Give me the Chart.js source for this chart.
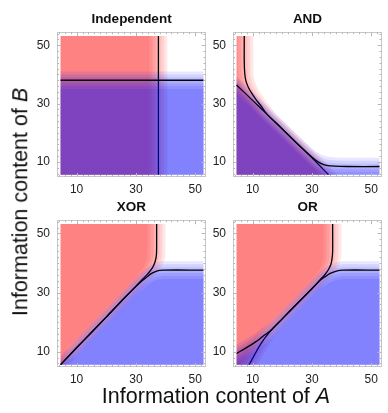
<!DOCTYPE html>
<html>
<head>
<meta charset="utf-8">
<script src="https://cdn.jsdelivr.net/npm/chart.js@4.4.0/dist/chart.umd.min.js"></script>
<style>
  body { margin: 0; background: #fff; width: 388px; height: 413px; position: relative; overflow: hidden;
         font-family: "Liberation Sans", Arial, sans-serif; color: #111; }
  canvas { position: absolute; }
  .ttl { position: absolute; font-weight: bold; font-size: 13.5px; line-height: 1; transform: translate(-50%, -50%); white-space: nowrap; }
  .axt { position: absolute; font-size: 21.5px; line-height: 1; white-space: nowrap; transform: translate(-50%, -50%); }
  #ytitle { transform: translate(-50%, -50%) rotate(-90deg); }
</style>
</head>
<body>
<div id="holder"></div>
<div class="axt" id="xtitle" style="left:216px; top:397px;">Information content of <i>A</i></div>
<div class="axt" id="ytitle" style="left:21px; top:202px;">Information content of <i>B</i></div>
<script>
// panel names
var panelTitles = ["Independent", "AND", "XOR", "OR"];

// axes
var xRange = [3.4, 53.5];
var yRange = [4.8, 54.5];
var tickValues = [4, 6, 8, 10, 12, 14, 16, 18, 20, 22, 24, 26, 28, 30, 32, 34, 36, 38, 40, 42, 44, 46, 48, 50, 52, 54];
var labelValues = [10, 30, 50];

// extent of the coloured field
var fieldX = [4.6, 52.8];
var fieldY = [5.6, 53.2];

// boundary of A (red), listed top to bottom
var indepRed = [{x:37.6,y:53.2},{x:37.6,y:5.6}];
var andRed = [{x:7.2,y:53.2},{x:7.2,y:44},{x:7.4,y:40},{x:7.8,y:37.6},{x:8.6,y:35.5},{x:9.8,y:33.4},{x:11.3,y:31.2},
  {x:13,y:29},{x:15,y:26.2},{x:20,y:21.3},{x:25,y:16.3},{x:30,y:11.4},{x:35.6,y:5.6}];
var xorRed = [{x:37,y:53.2},{x:37,y:45},{x:36.9,y:42.5},{x:36.5,y:40.5},{x:35.8,y:38.8},{x:34.8,y:37.3},{x:33.6,y:35.9},
  {x:32,y:34.3},{x:30,y:32.1},{x:25,y:27},{x:20,y:21.7},{x:15,y:16.5},{x:10,y:11.3},{x:4.6,y:5.6}];
var orRed = [{x:37,y:53.2},{x:37,y:44},{x:36.8,y:41.5},{x:36.4,y:39.5},{x:35.6,y:37.8},{x:34.5,y:36.2},{x:33.4,y:35},
  {x:30,y:31.3},{x:25,y:26.2},{x:20,y:21.1},{x:16.5,y:17.5},{x:14.5,y:15.1},{x:13,y:13},{x:11.8,y:11},{x:10.6,y:8.8},
  {x:9.5,y:6.8},{x:8.8,y:5.6}];

// boundary of B (blue), listed left to right
var indepBlue = [{x:4.6,y:38},{x:52.8,y:38}];
var andBlue = [{x:4.6,y:36.4},{x:10,y:31.1},{x:15,y:26.2},{x:20,y:21.3},{x:25,y:16.3},{x:27,y:14.4},{x:29,y:12.5},
  {x:31,y:10.8},{x:33,y:9.5},{x:35,y:8.8},{x:38,y:8.5},{x:42,y:8.4},{x:52.8,y:8.4}];
var xorBlue = [{x:4.6,y:5.6},{x:10,y:11.3},{x:15,y:16.5},{x:20,y:21.7},{x:25,y:27},{x:30,y:32.1},{x:32,y:33.9},
  {x:33.6,y:35.2},{x:35.3,y:36.5},{x:37,y:37.3},{x:39,y:37.6},{x:52.8,y:37.6}];
var orBlue = [{x:4.6,y:9.4},{x:6,y:10.2},{x:7.7,y:11.2},{x:9.5,y:12.3},{x:11,y:13.3},{x:12.5,y:14.4},{x:14,y:15.6},
  {x:16.5,y:17.5},{x:20,y:21.1},{x:25,y:26.2},{x:30,y:31.3},{x:33,y:34.3},{x:34.5,y:35.4},{x:36,y:36.4},
  {x:38,y:37.2},{x:40.4,y:37.6},{x:52.8,y:37.6}];

Chart.defaults.font.family = '"Liberation Sans", Arial, sans-serif';
Chart.defaults.color = '#222';

// soft edge: the region is laid down several times, pushed a little each time
var edgeShifts = [-3, -2, -1, 0, 1, 2, 3];
var layerAlpha = 0.094;

function clamp(v, r) { return Math.min(r[1], Math.max(r[0], v)); }

function redShape(curve, s) {
  var pts = curve.map(function (p) { return {x: clamp(p.x + s, fieldX), y: p.y}; });
  pts.push({x: fieldX[0], y: fieldY[0]}, {x: fieldX[0], y: fieldY[1]});
  return pts;
}
function blueShape(curve, s) {
  var pts = curve.map(function (p) { return {x: p.x, y: clamp(p.y + s, fieldY)}; });
  pts.push({x: fieldX[1], y: fieldY[0]}, {x: fieldX[0], y: fieldY[0]});
  return pts;
}

var framePlugin = {
  id: 'frame',
  afterDraw: function (chart) {
    var ctx = chart.ctx, a = chart.chartArea, sx = chart.scales.x, sy = chart.scales.y;
    ctx.save();
    ctx.lineWidth = 1;
    ctx.strokeStyle = '#c6c6c6';
    ctx.strokeRect(Math.round(a.left) + 0.5, Math.round(a.top) + 0.5,
                   Math.round(a.right - a.left) - 1, Math.round(a.bottom - a.top) - 1);
    ctx.strokeStyle = '#b8b8b8';
    ctx.beginPath();
    tickValues.forEach(function (v) {
      var len = labelValues.indexOf(v) >= 0 ? 4 : 2;
      if (v > xRange[0] && v < xRange[1]) {
        var px = Math.round(sx.getPixelForValue(v)) + 0.5;
        ctx.moveTo(px, a.bottom); ctx.lineTo(px, a.bottom - len);
        ctx.moveTo(px, a.top); ctx.lineTo(px, a.top + len);
      }
      if (v > yRange[0] && v < yRange[1]) {
        var py = Math.round(sy.getPixelForValue(v)) + 0.5;
        ctx.moveTo(a.left, py); ctx.lineTo(a.left + len, py);
        ctx.moveTo(a.right, py); ctx.lineTo(a.right - len, py);
      }
    });
    ctx.stroke();
    ctx.restore();
  }
};

var panels = [
  {title: panelTitles[0], red: indepRed, blue: indepBlue, left: 57, top: 28, w: 149, h: 149},
  {title: panelTitles[1], red: andRed,   blue: andBlue,   left: 233, top: 28, w: 149, h: 149},
  {title: panelTitles[2], red: xorRed,   blue: xorBlue,   left: 57, top: 216, w: 149, h: 151},
  {title: panelTitles[3], red: orRed,    blue: orBlue,    left: 233, top: 216, w: 149, h: 151}
];

var holder = document.getElementById('holder');

panels.forEach(function (p) {
  var padL = 30, padT = 10, padR = 6, padB = 25;
  var canvas = document.createElement('canvas');
  canvas.width = padL + p.w + padR;
  canvas.height = padT + p.h + padB;
  canvas.style.left = (p.left - padL) + 'px';
  canvas.style.top = (p.top - padT) + 'px';
  holder.appendChild(canvas);

  var t = document.createElement('div');
  t.className = 'ttl';
  t.textContent = p.title;
  t.style.left = (p.left + p.w / 2) + 'px';
  t.style.top = (p.top - 9) + 'px';
  holder.appendChild(t);

  var datasets = [];
  edgeShifts.forEach(function (s) {
    datasets.push({data: redShape(p.red, s), fill: 'shape', backgroundColor: 'rgba(255,0,0,' + layerAlpha + ')',
      borderColor: 'rgba(0,0,0,0)', borderWidth: 1, pointRadius: 0, tension: 0, order: 4});
  });
  datasets.push({data: p.red, fill: false, borderColor: '#000', borderWidth: 1.3, pointRadius: 0, tension: 0.3, order: 3});
  edgeShifts.forEach(function (s) {
    datasets.push({data: blueShape(p.blue, s), fill: 'shape', backgroundColor: 'rgba(0,0,255,' + layerAlpha + ')',
      borderColor: 'rgba(0,0,0,0)', borderWidth: 1, pointRadius: 0, tension: 0, order: 2});
  });
  datasets.push({data: p.blue, fill: false, borderColor: '#000', borderWidth: 1.3, pointRadius: 0, tension: 0.3, order: 1});

  function axisOpts(range, size) {
    return {
      type: 'linear', min: range[0], max: range[1],
      afterBuildTicks: function (scale) { scale.ticks = tickValues.map(function (v) { return {value: v}; }); },
      afterFit: function (scale) { if (scale.isHorizontal()) scale.height = padB; else scale.width = padL; },
      grid: {display: false, drawTicks: false},
      border: {display: false},
      ticks: {
        autoSkip: false, maxRotation: 0,
        padding: size,
        font: {size: 12},
        color: '#222',
        callback: function (v) { return labelValues.indexOf(v) >= 0 ? String(v) : ''; }
      }
    };
  }

  new Chart(canvas.getContext('2d'), {
    type: 'line',
    data: {datasets: datasets},
    options: {
      responsive: false,
      animation: false,
      events: [],
      layout: {padding: {left: 0, top: padT, right: padR, bottom: 0}},
      plugins: {legend: {display: false}, tooltip: {enabled: false}, title: {display: false}},
      scales: {x: axisOpts(xRange, 5), y: axisOpts(yRange, 7)}
    },
    plugins: [framePlugin]
  });
});
</script>
</body>
</html>
